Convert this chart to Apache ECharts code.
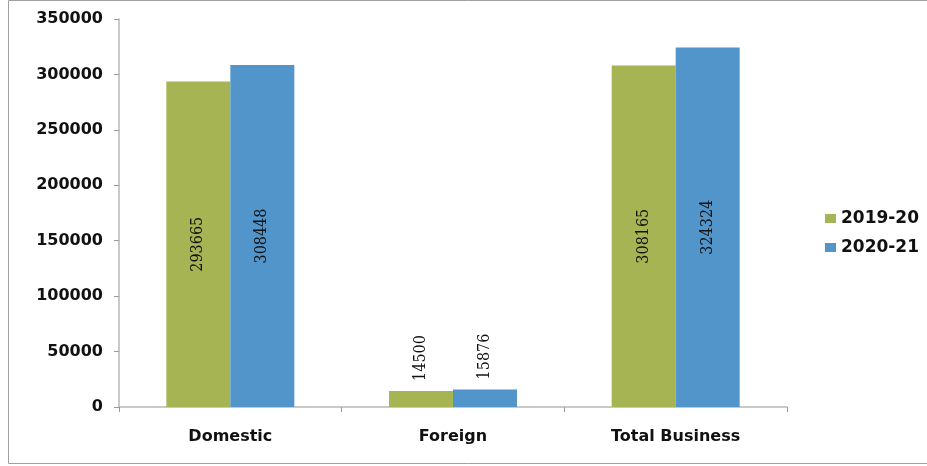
<!DOCTYPE html>
<html>
<head>
<meta charset="utf-8">
<script src="https://cdn.jsdelivr.net/npm/echarts@6/dist/echarts.min.js"></script>
<style>html,body{margin:0;padding:0;background:#fff;}#c{width:927px;height:466px;}</style>
</head>
<body>
<div id="c"></div>
<script>
var categories = ['Domestic', 'Foreign', 'Total Business'];
var seriesNames = ['2019-20', '2020-21'];
var values2019 = [293665, 14500, 308165];
var values2020 = [308448, 15876, 324324];
var yTicks = [0, 50000, 100000, 150000, 200000, 250000, 300000, 350000];

var colors = ['#A6B453', '#5295CB'];
var labelFont = "'DejaVu Serif Condensed', 'Liberation Serif', serif";
var valueLabel = {
  show: true, position: 'inside', rotate: 90,
  fontFamily: labelFont, fontSize: 16, color: '#111'
};
var topLabel = {
  show: true, position: 'top', rotate: 90, distance: 10,
  align: 'left', verticalAlign: 'middle',
  fontFamily: labelFont, fontSize: 16, color: '#111'
};
function buildData(arr) {
  return arr.map(function (v, i) {
    return i === 1 ? { value: v, label: topLabel } : { value: v };
  });
}
var chart = echarts.init(document.getElementById('c'), null, { renderer: 'canvas' });
chart.setOption({
  animation: false,
  backgroundColor: '#fff',
  graphic: [{
    type: 'rect', shape: { x: 8.5, y: 0.5, width: 930, height: 463 },
    style: { fill: 'none', stroke: '#a0a0a0', lineWidth: 1 }, silent: true
  }],
  grid: { left: 119, right: 140, top: 19, bottom: 59, containLabel: false },
  legend: {
    orient: 'vertical', left: 820, top: 205, itemWidth: 11, itemHeight: 9, itemGap: 12,
    icon: 'rect',
    textStyle: { fontFamily: 'DejaVu Sans', fontWeight: 'bold', fontSize: 17, color: '#111' },
    data: seriesNames
  },
  xAxis: {
    type: 'category', data: categories,
    axisLine: { lineStyle: { color: '#b8b8b8', width: 1.5 } },
    axisTick: { show: true, length: 5, lineStyle: { color: '#999' } },
    axisLabel: { fontFamily: 'DejaVu Sans', fontWeight: 'bold', fontSize: 16, color: '#111', margin: 22 }
  },
  yAxis: {
    type: 'value', min: 0, max: yTicks[yTicks.length - 1], interval: 50000,
    splitLine: { show: false },
    axisLine: { show: true, lineStyle: { color: '#b8b8b8', width: 1.5 } },
    axisTick: { show: true, length: 5, lineStyle: { color: '#999' } },
    axisLabel: { fontFamily: 'DejaVu Sans', fontWeight: 'bold', fontSize: 16, color: '#111', margin: 16,
      formatter: function (v) { return String(v); } }
  },
  series: [
    { name: seriesNames[0], type: 'bar', data: buildData(values2019), itemStyle: { color: colors[0] },
      barWidth: 64, barGap: '0%', label: valueLabel },
    { name: seriesNames[1], type: 'bar', data: buildData(values2020), itemStyle: { color: colors[1] },
      barWidth: 64, barGap: '0%', label: valueLabel }
  ]
});
</script>
</body>
</html>
